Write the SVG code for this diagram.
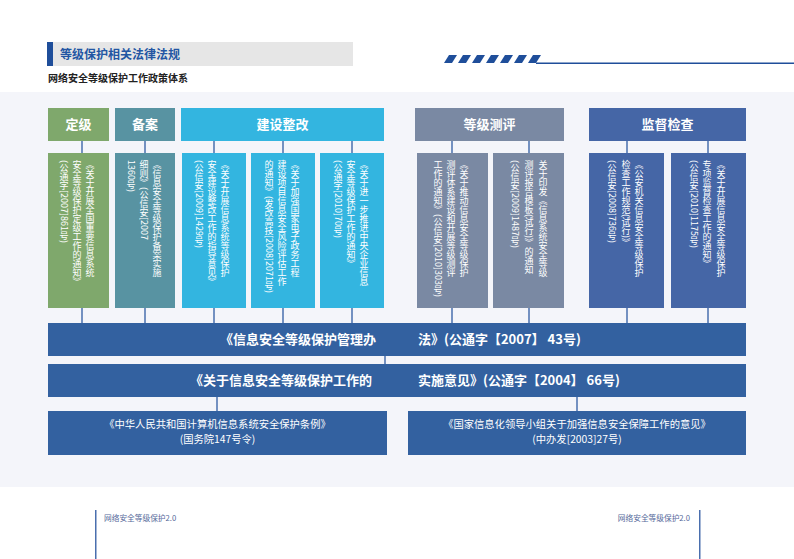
<svg xmlns="http://www.w3.org/2000/svg" width="794" height="559" viewBox="0 0 794 559">
<style>
.cjk{font-family:"Noto Sans CJK SC","Noto Sans",sans-serif}
.hd{font-family:"Noto Sans CJK SC",sans-serif;font-size:13px;font-weight:bold;fill:#fff;text-anchor:middle}
.vt{font-family:"Noto Sans CJK SC",sans-serif;font-size:9px;fill:#fff;writing-mode:vertical-rl}
.bar{font-family:"Noto Sans CJK SC",sans-serif;font-size:13px;font-weight:bold;fill:#fff}
.bt{font-family:"Noto Sans CJK SC",sans-serif;font-size:10.3px;fill:#fff;text-anchor:middle}
.ln{stroke:#4a6fae;stroke-width:1.5;fill:none}
.ft{font-family:"Noto Sans CJK SC",sans-serif;font-size:7.7px;fill:#55699a}
</style>
<rect width="794" height="559" fill="#fff"/>
<rect x="0" y="92" width="794" height="395" fill="#f4f5fa"/>
<g id="title">
<rect x="47" y="42" width="306" height="24" fill="#e6e6e6"/>
<rect x="47" y="42" width="6" height="24" fill="#1f4e9a"/>
<text x="60" y="59" class="cjk" font-size="12" font-weight="bold" fill="#2356a3">等级保护相关法律法规</text>
<text x="48" y="82" class="cjk" font-size="10" font-weight="bold" fill="#222">网络安全等级保护工作政策体系</text>
</g>
<g id="stripes" fill="#1f4e9a">
<polygon points="444,63 449,55 457,55 452,63"/>
<polygon points="458,63 463,55 471,55 466,63"/>
<polygon points="472,63 477,55 485,55 480,63"/>
<polygon points="486,63 491,55 499,55 494,63"/>
<polygon points="500,63 505,55 513,55 508,63"/>
<polygon points="514,63 519,55 527,55 522,63"/>
<polygon points="528,63 533,55 541,55 536,63"/>
<rect x="536" y="62.5" width="258" height="1.5"/>
</g>
<g id="connectors">
<line class="ln" x1="82" y1="141" x2="82" y2="153"/><line class="ln" x1="82" y1="308" x2="82" y2="323"/>
<line class="ln" x1="145" y1="141" x2="145" y2="153"/><line class="ln" x1="145" y1="308" x2="145" y2="323"/>
<line class="ln" x1="214" y1="141" x2="214" y2="153"/><line class="ln" x1="214" y1="308" x2="214" y2="323"/>
<line class="ln" x1="283" y1="141" x2="283" y2="153"/><line class="ln" x1="283" y1="308" x2="283" y2="323"/>
<line class="ln" x1="352" y1="141" x2="352" y2="153"/><line class="ln" x1="352" y1="308" x2="352" y2="323"/>
<line class="ln" x1="452" y1="141" x2="452" y2="153"/><line class="ln" x1="452" y1="308" x2="452" y2="323"/>
<line class="ln" x1="529" y1="141" x2="529" y2="153"/><line class="ln" x1="529" y1="308" x2="529" y2="323"/>
<line class="ln" x1="627" y1="141" x2="627" y2="153"/><line class="ln" x1="627" y1="308" x2="627" y2="323"/>
<line class="ln" x1="708" y1="141" x2="708" y2="153"/><line class="ln" x1="708" y1="308" x2="708" y2="323"/>
<line class="ln" x1="385" y1="356" x2="385" y2="364"/>
<line class="ln" x1="217" y1="397" x2="217" y2="411"/>
<line class="ln" x1="577" y1="397" x2="577" y2="411"/>
</g>
<g id="h-dingji"><rect x="48" y="108" width="61" height="33" fill="#7fa86c"/><text class="hd" x="78.5" y="129">定级</text></g>
<g id="h-beian"><rect x="115" y="108" width="60" height="33" fill="#5893a2"/><text class="hd" x="145" y="129">备案</text></g>
<g id="h-jianshe"><rect x="181" y="108" width="203" height="33" fill="#33b5e0"/><text class="hd" x="282.5" y="129">建设整改</text></g>
<g id="h-cheping"><rect x="415" y="108" width="149" height="33" fill="#7a89a3"/><text class="hd" x="489.5" y="129">等级测评</text></g>
<g id="h-jiandu"><rect x="589" y="108" width="157" height="33" fill="#4566a6"/><text class="hd" x="667.5" y="129">监督检查</text></g>

<g id="d-dingji"><rect x="48" y="153" width="61" height="155" fill="#7fa86c"/>
<text class="vt" x="90" y="160">《关于开展全国重要信息系统</text>
<text class="vt" x="77" y="160">安全等级保护定级工作的通知》</text>
<text class="vt" x="64" y="160">(公通字[2007]861号)</text></g>
<g id="d-beian"><rect x="115" y="153" width="60" height="155" fill="#5893a2"/>
<text class="vt" x="157" y="160">《信息安全等级保护备案实施</text>
<text class="vt" x="144" y="160">细则》(公信安[2007</text>
<text class="vt" x="131" y="160">1360号)</text></g>
<g id="d-js1"><rect x="182" y="153" width="64" height="155" fill="#33b5e0"/>
<text class="vt" x="225" y="160">《关于开展信息系统等级保护</text>
<text class="vt" x="212" y="160">安全建设整改工作的指导意见》</text>
<text class="vt" x="199" y="160">(公信安[2009]1429号)</text></g>
<g id="d-js2"><rect x="251" y="153" width="64" height="155" fill="#33b5e0"/>
<text class="vt" x="295" y="160">《关于加强国家电子政务工程</text>
<text class="vt" x="282" y="160">建设项目信息安全风险评估工作</text>
<text class="vt" x="269" y="160">的通知》(发改高技[2008]2071号)</text></g>
<g id="d-js3"><rect x="320" y="153" width="64" height="155" fill="#33b5e0"/>
<text class="vt" x="364" y="160">《关于进一步推进中央企业信息</text>
<text class="vt" x="351" y="160">安全等级保护工作的通知》</text>
<text class="vt" x="338" y="160">(公通字[2010]70号)</text></g>
<g id="d-cp1"><rect x="417" y="153" width="71" height="155" fill="#7a89a3"/>
<text class="vt" x="464" y="160">《关于推动信息安全等级保护</text>
<text class="vt" x="451" y="160">测评体系建设和开展等级测评</text>
<text class="vt" x="438" y="160">工作的通知》(公信安[2010]303号)</text></g>
<g id="d-cp2"><rect x="493" y="153" width="71" height="155" fill="#7a89a3"/>
<text class="vt" x="543" y="160">关于印发《信息系统安全等级</text>
<text class="vt" x="529" y="160">测评报告模板(试行)》的通知</text>
<text class="vt" x="515" y="160">(公信安[2009]1487号)</text></g>
<g id="d-jd1"><rect x="589" y="153" width="75" height="155" fill="#4566a6"/>
<text class="vt" x="639" y="160">《公安机关信息安全等级保护</text>
<text class="vt" x="626" y="160">检查工作规范(试行)》</text>
<text class="vt" x="612" y="160">(公信安[2008]736号)</text></g>
<g id="d-jd2"><rect x="671" y="153" width="75" height="155" fill="#4566a6"/>
<text class="vt" x="721" y="160">《关于开展信息安全等级保护</text>
<text class="vt" x="707" y="160">专项监督检查工作的通知》</text>
<text class="vt" x="694" y="160">(公信安[2010]1175号)</text></g>

<g id="bar1"><rect x="48" y="323" width="698" height="33" fill="#3361a0"/>
<text class="bar" x="220" y="344">《信息安全等级保护管理办</text>
<text class="bar" x="418" y="344">法》(公通字【2007】 43号)</text></g>
<g id="bar2"><rect x="48" y="364" width="698" height="33" fill="#3361a0"/>
<text class="bar" x="190" y="385">《关于信息安全等级保护工作的</text>
<text class="bar" x="418" y="385">实施意见》(公通字【2004】 66号)</text></g>
<g id="law1"><rect x="48" y="411" width="339" height="44" fill="#3361a0"/>
<text class="bt" x="217.5" y="428">《中华人民共和国计算机信息系统安全保护条例》</text>
<text class="bt" x="217.5" y="443">(国务院147号令)</text></g>
<g id="law2"><rect x="408" y="411" width="338" height="44" fill="#3361a0"/>
<text class="bt" x="577" y="428">《国家信息化领导小组关于加强信息安全保障工作的意见》</text>
<text class="bt" x="577" y="443">(中办发[2003]27号)</text></g>

<g id="footer">
<rect x="95" y="510" width="1.5" height="49" fill="#4a6fae"/>
<text class="ft" x="104" y="521">网络安全等级保护2.0</text>
<rect x="699" y="510" width="1.5" height="49" fill="#4a6fae"/>
<text class="ft" x="690" y="521" text-anchor="end">网络安全等级保护2.0</text>
</g>
</svg>
